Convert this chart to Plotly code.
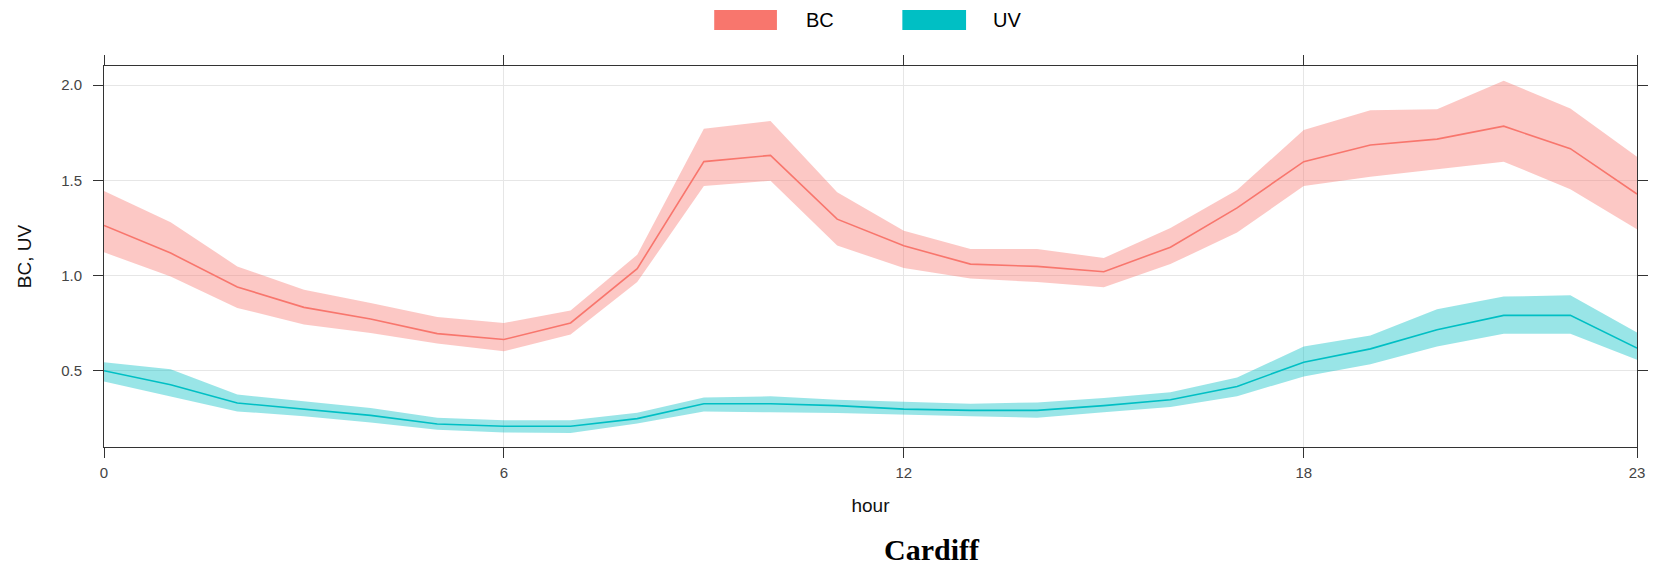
import plotly.graph_objects as go

hours = list(range(24))

bc_mean = [1.263, 1.118, 0.940, 0.833, 0.772, 0.695, 0.664, 0.751, 1.036, 1.598, 1.631, 1.296,
           1.156, 1.060, 1.048, 1.020, 1.149, 1.355, 1.598, 1.685, 1.716, 1.784, 1.666, 1.428]
bc_upper = [1.444, 1.280, 1.048, 0.926, 0.856, 0.783, 0.751, 0.816, 1.109, 1.770, 1.811, 1.437,
            1.235, 1.140, 1.140, 1.092, 1.249, 1.449, 1.764, 1.868, 1.873, 2.023, 1.877, 1.624]
bc_lower = [1.122, 0.995, 0.830, 0.743, 0.699, 0.643, 0.603, 0.690, 0.966, 1.470, 1.497, 1.158,
            1.039, 0.985, 0.966, 0.938, 1.060, 1.226, 1.470, 1.519, 1.559, 1.598, 1.453, 1.243]

uv_mean = [0.500, 0.427, 0.331, 0.299, 0.266, 0.221, 0.209, 0.209, 0.249, 0.327, 0.327, 0.317,
           0.299, 0.292, 0.292, 0.317, 0.348, 0.418, 0.545, 0.615, 0.715, 0.791, 0.791, 0.619]
uv_upper = [0.545, 0.508, 0.375, 0.340, 0.305, 0.253, 0.240, 0.240, 0.280, 0.360, 0.366, 0.348,
            0.336, 0.327, 0.334, 0.357, 0.387, 0.465, 0.627, 0.685, 0.823, 0.890, 0.896, 0.701]
uv_lower = [0.444, 0.367, 0.287, 0.262, 0.229, 0.190, 0.176, 0.173, 0.224, 0.287, 0.282, 0.279,
            0.270, 0.262, 0.253, 0.282, 0.310, 0.367, 0.470, 0.535, 0.627, 0.694, 0.694, 0.558]

x_ticks = [0, 6, 12, 18, 23]
y_ticks = [0.5, 1.0, 1.5, 2.0]
y_tick_text = ["0.5", "1.0", "1.5", "2.0"]

series = [
    ("BC", bc_mean, bc_upper, bc_lower, "#F8766D", "rgba(248,118,109,0.4)"),
    ("UV", uv_mean, uv_upper, uv_lower, "#00BFC4", "rgba(0,191,196,0.4)"),
]

W, H = 1660, 566
L, R, T, B = 104, 16, 66, 119
PW, PH = W - L - R, H - T - B


def px_x(px):
    return (px - L) / PW


def px_y(py):
    return (H - B - py) / PH


fig = go.Figure()
for name, mean, up, lo, col, fillc in series:
    fig.add_trace(go.Scatter(
        x=hours + hours[::-1], y=up + lo[::-1], fill="toself", fillcolor=fillc,
        line=dict(width=0), mode="lines", hoverinfo="skip", showlegend=False))
for name, mean, up, lo, col, fillc in series:
    fig.add_trace(go.Scatter(x=hours, y=mean, mode="lines", name=name,
                             line=dict(color=col, width=1.6), showlegend=False))

axis_common = dict(
    showline=True, linecolor="#333333", linewidth=1, mirror="allticks",
    ticks="outside", ticklen=10, tickcolor="#333333", tickwidth=1,
    showgrid=True, gridcolor="#E6E6E6", gridwidth=1, zeroline=False,
    tickfont=dict(family="Liberation Sans, Arial", size=15, color="#444444"),
)

fig.update_xaxes(range=[0, 23], tickmode="array", tickvals=x_ticks,
                 ticktext=[str(v) for v in x_ticks],
                 title=dict(text="hour", font=dict(family="Liberation Sans, Arial", size=19, color="#111111"),
                            standoff=18),
                 ticklabelstandoff=2, **axis_common)
fig.update_yaxes(range=[0.1, 2.1], tickmode="array", tickvals=y_ticks, ticktext=y_tick_text,
                 title=dict(text="BC, UV", font=dict(family="Liberation Sans, Arial", size=19, color="#111111"),
                            standoff=24),
                 ticklabelstandoff=8, **axis_common)

# legend (manual, top)
legend_items = [("BC", "#F8766D", 717, 780, 807), ("UV", "#00BFC4", 906, 970, 995)]
shapes = []
annotations = []
for name, col, x0, x1, tx in legend_items:
    shapes.append(dict(type="rect", xref="paper", yref="paper",
                       x0=px_x(x0), x1=px_x(x1), y0=px_y(30), y1=px_y(10),
                       fillcolor=col, line=dict(width=0)))
    annotations.append(dict(text=name, xref="paper", yref="paper", x=px_x(tx), y=px_y(20),
                            xanchor="left", yanchor="middle", showarrow=False,
                            font=dict(family="Liberation Sans, Arial", size=20, color="#000000")))

annotations.append(dict(text="<b>Cardiff</b>", xref="paper", yref="paper", x=px_x(936), y=px_y(549),
                        xanchor="center", yanchor="middle", showarrow=False,
                        font=dict(family="Liberation Serif, Times New Roman", size=30, color="#000000")))

fig.update_layout(
    width=W, height=H, margin=dict(l=L, r=R, t=T, b=B),
    plot_bgcolor="white", paper_bgcolor="white",
    showlegend=False, shapes=shapes, annotations=annotations,
)

fig.write_html("out.html")
